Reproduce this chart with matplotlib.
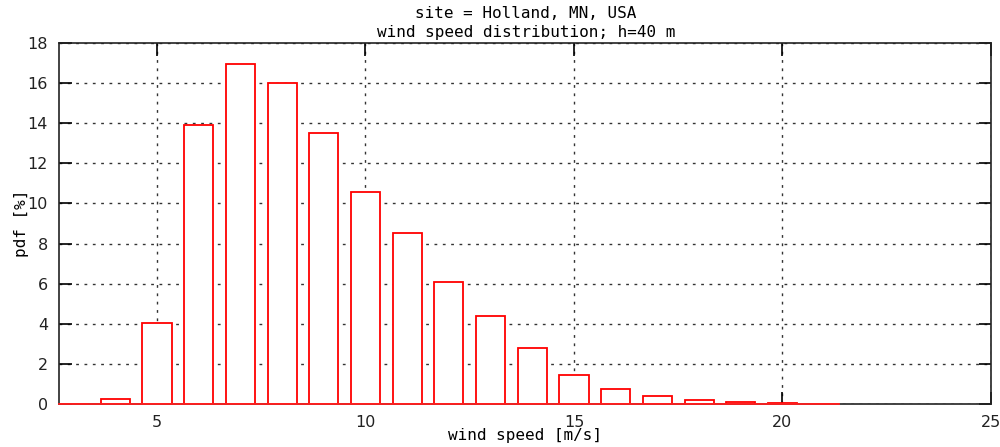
import matplotlib
matplotlib.use("Agg")
import matplotlib.pyplot as plt

# data
speeds = [3, 4, 5, 6, 7, 8, 9, 10, 11, 12, 13, 14, 15, 16, 17, 18, 19, 20, 21]
pdf = [0.0, 0.25, 4.05, 13.9, 16.95, 16.0, 13.5, 10.55, 8.55, 6.08, 4.4, 2.8,
       1.45, 0.75, 0.4, 0.18, 0.08, 0.02, 0.0]
xticks = [5, 10, 15, 20, 25]
yticks = [0, 2, 4, 6, 8, 10, 12, 14, 16, 18]
title_lines = ["site = Holland, MN, USA", "wind speed distribution; h=40 m"]
xlabel = "wind speed [m/s]"
ylabel = "pdf [%]"

bar_w = 0.7
mono = "DejaVu Sans Mono"

fig = plt.figure(figsize=(10, 4.47), dpi=100)
ax = fig.add_axes([0.059, 0.0973, 0.932, 0.8054])

ax.bar(speeds, pdf, width=bar_w, facecolor="white", edgecolor="#ff0000",
       linewidth=1.3, zorder=3)
# red baseline of the box series
ax.plot([speeds[0] - bar_w / 2, speeds[-1] + bar_w / 2], [0, 0],
        color="#ff2020", linewidth=1.3, zorder=4, clip_on=False)

ax.set_xlim(speeds[0] - bar_w / 2, 25)
ax.set_ylim(0, 18)
ax.set_xticks(xticks)
ax.set_yticks(yticks)
ax.tick_params(direction="in", length=9, width=1.2, top=True, right=True,
               labelsize=11.5, pad=8, colors="black")
for lab in ax.get_xticklabels() + ax.get_yticklabels():
    lab.set_fontfamily("DejaVu Sans")
    lab.set_color("#222222")

ax.grid(True, color="#333333", linestyle=(0, (2, 4)), linewidth=1.0, zorder=1)
ax.set_axisbelow(True)
for s in ax.spines.values():
    s.set_linewidth(1.2)
    s.set_color("#222222")
    s.set_zorder(2)

ax.set_xlabel(xlabel, family=mono, fontsize=11.5, labelpad=-1)
ax.set_ylabel(ylabel, family=mono, fontsize=11.5, labelpad=-1)

fig.text(0.526, 1 - 14 / 447, title_lines[0], family=mono, fontsize=11.5,
         ha="center", va="center")
fig.text(0.526, 1 - 33 / 447, title_lines[1], family=mono, fontsize=11.5,
         ha="center", va="center")

fig.savefig("out.png", dpi=100)
